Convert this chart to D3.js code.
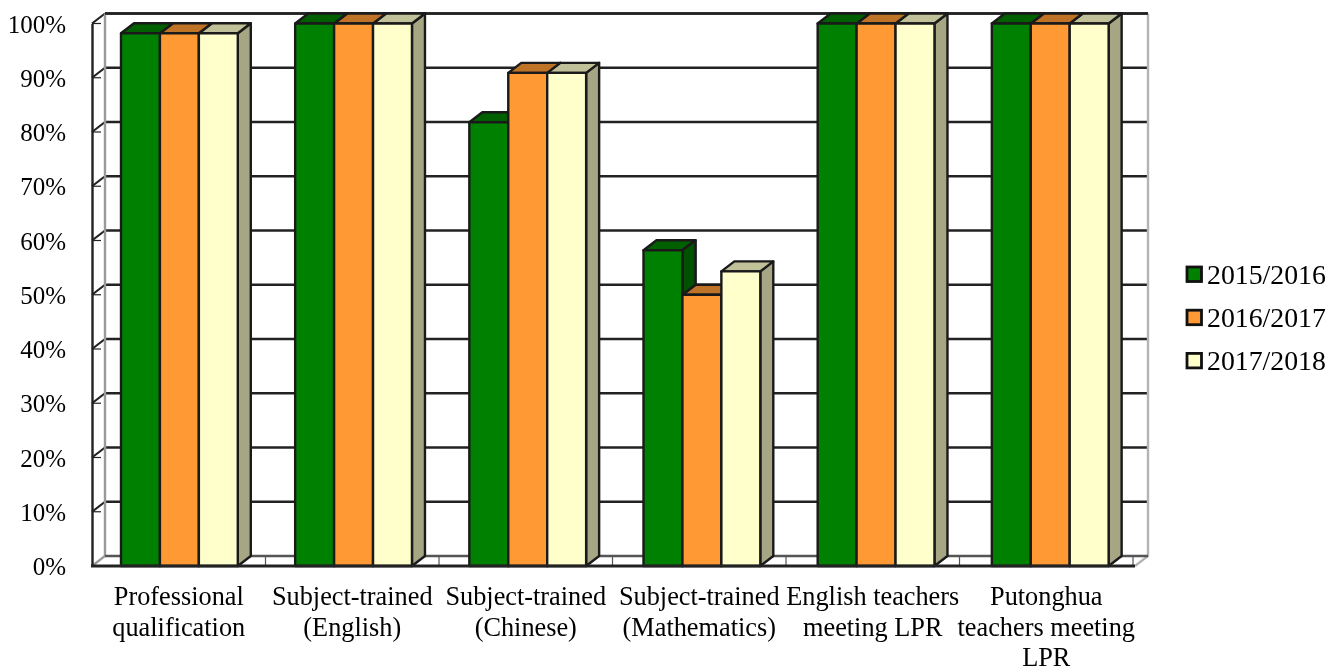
<!DOCTYPE html>
<html>
<head>
<meta charset="utf-8">
<script src="https://cdn.jsdelivr.net/npm/d3@7"></script>
<style>
  html, body { margin: 0; padding: 0; background: #fff; }
  svg { display: block; filter: blur(0.4px); }
  text { font-family: "Liberation Serif", serif; fill: #000; }
</style>
</head>
<body>
<div id="wrapper"></div>
<script>
// 1. Data

const categories = [
    "Professional qualification",
    "Subject-trained (English)",
    "Subject-trained (Chinese)",
    "Subject-trained (Mathematics)",
    "English teachers meeting LPR",
    "Putonghua teachers meeting LPR"
];
const categoryLines = [
    ["Professional", "qualification"],
    ["Subject-trained", "(English)"],
    ["Subject-trained", "(Chinese)"],
    ["Subject-trained", "(Mathematics)"],
    ["English teachers", "meeting LPR"],
    ["Putonghua", "teachers meeting", "LPR"]
];
const seriesNames = ["2015/2016", "2016/2017", "2017/2018"];
const values2015 = [98.2, 100, 81.8, 58.2, 100, 100];
const values2016 = [98.2, 100, 90.9, 50, 100, 100];
const values2017 = [98.2, 100, 90.9, 54.3, 100, 100];
const seriesValues = [values2015, values2016, values2017];
const yTicks = [0, 10, 20, 30, 40, 50, 60, 70, 80, 90, 100];

// 2. Dimensions and colours

const dimensions = {
    width: 1330,
    height: 668,
    left: 92,
    right: 1135,
    top: 23.5,
    bottom: 566,
    depthX: 13,
    depthY: 10
};
const frontColors = ["#008000", "#ff9933", "#ffffcc"];
const topColors = ["#006000", "#bf7326", "#c0c099"];
const sideColors = ["#005200", "#a86520", "#a6a685"];
const lineColor = "#222";
const wallColor = "#9a9a9a";

// 3. Canvas

const svg = d3.select("#wrapper")
    .append("svg")
    .attr("width", dimensions.width)
    .attr("height", dimensions.height);

// 4. Scales

// bars sit a little wider apart than the axis ticks in the original
const xScale = d3.scaleBand()
    .domain(d3.range(categories.length))
    .range([dimensions.left, 1137]);

const axisScale = d3.scaleBand()
    .domain(d3.range(categories.length))
    .range([dimensions.left, 1133]);

const barScale = d3.scaleBand()
    .domain(d3.range(seriesNames.length))
    .range([29, 145.8]);

const yScale = d3.scaleLinear()
    .domain([0, 100])
    .range([dimensions.bottom, dimensions.top]);

const dx = dimensions.depthX;
const dy = dimensions.depthY;
const poly = pts => pts.map(p => p.join(",")).join(" ");

// 5. Walls and floor

const walls = svg.append("g").attr("fill", "none");

walls.selectAll(".grid")
    .data(yTicks.slice(1))
    .join("line")
    .attr("x1", dimensions.left + dx)
    .attr("x2", dimensions.right + dx)
    .attr("y1", d => yScale(d) - dy)
    .attr("y2", d => yScale(d) - dy)
    .attr("stroke", lineColor)
    .attr("stroke-width", 2.4);

walls.selectAll(".diag")
    .data(yTicks.slice(1))
    .join("line")
    .attr("x1", dimensions.left)
    .attr("x2", dimensions.left + dx)
    .attr("y1", d => yScale(d))
    .attr("y2", d => yScale(d) - dy)
    .attr("stroke", lineColor)
    .attr("stroke-width", 2.2);

// inward tick marks on the front axis
walls.selectAll(".ytick")
    .data(yTicks.slice(1))
    .join("line")
    .attr("x1", dimensions.left)
    .attr("x2", dimensions.left + 9)
    .attr("y1", d => yScale(d))
    .attr("y2", d => yScale(d))
    .attr("stroke", lineColor)
    .attr("stroke-width", 1.2);

walls.append("polyline")
    .attr("points", poly([
        [dimensions.left, dimensions.bottom],
        [dimensions.left + dx, dimensions.bottom - dy],
        [dimensions.left + dx, yScale(100) - dy]
    ]))
    .attr("stroke", wallColor)
    .attr("stroke-width", 2.4);

walls.append("polyline")
    .attr("points", poly([
        [dimensions.right, dimensions.bottom],
        [dimensions.right + dx, dimensions.bottom - dy],
        [dimensions.right + dx, yScale(100) - dy]
    ]))
    .attr("stroke", "#b4b4b4")
    .attr("stroke-width", 2.4);

walls.append("line")
    .attr("x1", dimensions.left + dx)
    .attr("x2", dimensions.right + dx)
    .attr("y1", dimensions.bottom - dy)
    .attr("y2", dimensions.bottom - dy)
    .attr("stroke", "#555")
    .attr("stroke-width", 2.4);

walls.append("line")
    .attr("x1", dimensions.left + dx)
    .attr("x2", dimensions.right + dx)
    .attr("y1", yScale(100) - dy)
    .attr("y2", yScale(100) - dy)
    .attr("stroke", lineColor)
    .attr("stroke-width", 2.4);

// category separators on the floor
walls.selectAll(".xtick")
    .data(d3.range(1, categories.length + 1))
    .join("line")
    .attr("x1", i => dimensions.left + i * axisScale.step())
    .attr("x2", i => dimensions.left + i * axisScale.step())
    .attr("y1", dimensions.bottom)
    .attr("y2", dimensions.bottom - 9)
    .attr("stroke", "#555")
    .attr("stroke-width", 1.2);

// 6. Bars: tops and sides from right to left, fronts over them

const bars = [];
categories.forEach((c, i) => {
    seriesNames.forEach((s, j) => {
        const x = xScale(i) + barScale(j);
        const w = barScale.bandwidth();
        bars.push({ i, j, x, w, y: yScale(seriesValues[j][i]) });
    });
});

const barsGroup = svg.append("g")
    .attr("stroke", "#1a1a1a")
    .attr("stroke-width", 2.4)
    .attr("stroke-linejoin", "round");

const backToFront = bars.slice().reverse();

barsGroup.selectAll(".side")
    .data(backToFront)
    .join("polygon")
    .attr("points", d => poly([
        [d.x + d.w, d.y],
        [d.x + d.w + dx, d.y - dy],
        [d.x + d.w + dx, dimensions.bottom - dy],
        [d.x + d.w, dimensions.bottom]
    ]))
    .attr("fill", d => sideColors[d.j]);

barsGroup.selectAll(".top")
    .data(backToFront)
    .join("polygon")
    .attr("points", d => poly([
        [d.x, d.y],
        [d.x + dx, d.y - dy],
        [d.x + d.w + dx, d.y - dy],
        [d.x + d.w, d.y]
    ]))
    .attr("fill", d => topColors[d.j]);

// green side has to stay above the orange top next to it
barsGroup.selectAll(".sideAgain")
    .data(backToFront.filter(d => d.j < 2 && seriesValues[d.j][d.i] > seriesValues[d.j + 1][d.i]))
    .join("polygon")
    .attr("points", d => poly([
        [d.x + d.w, d.y],
        [d.x + d.w + dx, d.y - dy],
        [d.x + d.w + dx, yScale(seriesValues[d.j + 1][d.i]) - dy],
        [d.x + d.w, yScale(seriesValues[d.j + 1][d.i])]
    ]))
    .attr("fill", d => sideColors[d.j]);

barsGroup.selectAll(".front")
    .data(bars)
    .join("rect")
    .attr("x", d => d.x)
    .attr("y", d => d.y)
    .attr("width", d => d.w)
    .attr("height", d => dimensions.bottom - d.y)
    .attr("fill", d => frontColors[d.j]);

// 7. Axes

const yAxis = svg.append("g")
    .attr("transform", `translate(${dimensions.left},0)`)
    .call(d3.axisLeft(yScale).tickValues(yTicks).tickFormat(d => d + "%").tickSize(0).tickPadding(26));

yAxis.selectAll("text")
    .style("font-family", "'Liberation Serif', serif")
    .style("font-size", "25px")
    .attr("fill", "#000")
    .attr("y", 0.5);
yAxis.select(".domain")
    .attr("stroke", lineColor)
    .attr("stroke-width", 2.4);

const xAxis = svg.append("g")
    .attr("transform", `translate(0,${dimensions.bottom})`)
    .call(d3.axisBottom(axisScale).tickFormat(() => "").tickSize(0));

xAxis.select(".domain").remove();

xAxis.append("line")
    .attr("x1", dimensions.left - 1)
    .attr("x2", dimensions.right)
    .attr("stroke", lineColor)
    .attr("stroke-width", 2.8);

xAxis.selectAll(".tick text")
    .style("font-family", "'Liberation Serif', serif")
    .style("font-size", "26.3px")
    .attr("fill", "#000")
    .attr("y", 0)
    .attr("dy", 0)
    .each(function (i) {
        d3.select(this).selectAll("tspan")
            .data(categoryLines[i])
            .join("tspan")
            .attr("x", 0)
            .attr("y", (d, k) => 39 + k * 30.7)
            .text(d => d);
    });

// 8. Legend

const legend = svg.append("g")
    .selectAll("g")
    .data(seriesNames)
    .join("g")
    .attr("transform", (d, i) => `translate(1187,${267 + i * 43.2})`);

legend.append("rect")
    .attr("width", 14.5)
    .attr("height", 14.5)
    .attr("fill", (d, i) => frontColors[i])
    .attr("stroke", "#111")
    .attr("stroke-width", 2.8);

legend.append("text")
    .attr("x", 20)
    .attr("y", 16.5)
    .style("font-size", "27.8px")
    .text(d => d);
</script>
</body>
</html>
